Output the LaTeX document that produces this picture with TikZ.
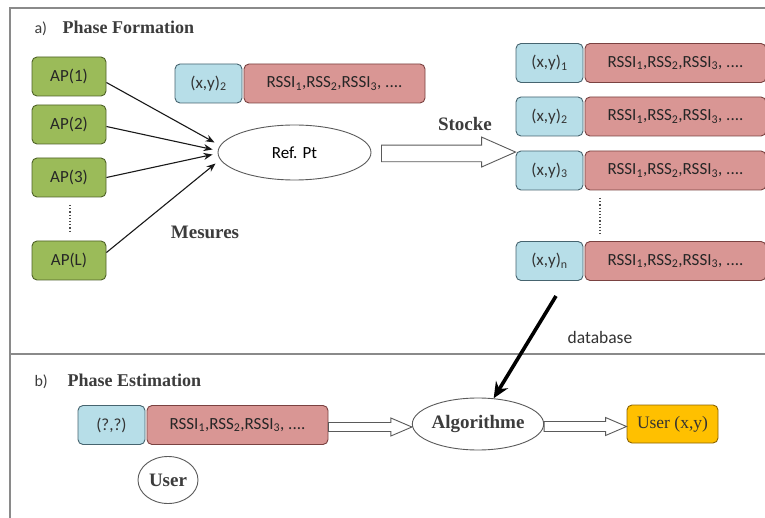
\documentclass[tikz,border=0pt]{standalone}
\usepackage{fontspec}
\setmainfont{Liberation Serif}
\newfontfamily\boxfont{Carlito}
\usetikzlibrary{calc,arrows.meta,shapes.geometric}

\definecolor{apgreen}{HTML}{9BBB59}
\definecolor{apline}{HTML}{4F6228}
\definecolor{posblue}{HTML}{B7DEE8}
\definecolor{posline}{HTML}{46646F}
\definecolor{rssred}{HTML}{D99694}
\definecolor{rssline}{HTML}{7A4241}
\definecolor{resgold}{HTML}{FFC000}
\definecolor{resline}{HTML}{8C6400}
\definecolor{titlegray}{HTML}{3C3C3C}
\definecolor{framegray}{HTML}{8A8A8A}
\definecolor{ovalline}{HTML}{5A5A5A}

\tikzset{
  boxtext/.style={font=\boxfont\fontsize{17}{19}\selectfont},
  apbox/.style={boxtext, draw=apline, fill=apgreen, rounded corners=5pt,
    line width=0.9pt, minimum width=74pt, minimum height=39pt, inner sep=0pt,
    text=black!85},
  posbox/.style={boxtext, draw=posline, fill=posblue, rounded corners=5pt,
    line width=0.9pt, minimum width=67pt, minimum height=39pt, inner sep=0pt,
    text=black!80},
  rssbox/.style={boxtext, draw=rssline, fill=rssred, rounded corners=5pt,
    line width=0.9pt, minimum width=181pt, minimum height=39pt, inner sep=0pt,
    text=black!85},
  oval/.style={ellipse, draw=ovalline, fill=white, line width=0.9pt, inner sep=0pt},
  heading/.style={anchor=base west, text=titlegray,
    font=\fontsize{18}{20}\selectfont\bfseries},
  tag/.style={anchor=base west, text=titlegray, font=\boxfont\fontsize{16}{18}\selectfont},
  caption/.style={text=titlegray, font=\fontsize{19}{21}\selectfont\bfseries},
  measure/.style={-{Stealth[length=9pt,width=7pt]}, line width=1.1pt, black!90},
  hollow/.style={draw=ovalline, fill=white, line width=0.9pt, line join=miter},
  frameline/.style={draw=framegray, line width=1.4pt},
}

\newcommand{\rssitext}{RSSI\textsubscript{1},RSS\textsubscript{2},RSSI\textsubscript{3}, ....}

\begin{document}
\begin{tikzpicture}[x=1pt,y=-1pt]
  \useasboundingbox (0,0) rectangle (765,518);
  \fill[white] (0,0) rectangle (765,518);

  % frame of the two panels
  \draw[frameline] (765,8) -- (10,8) -- (10,518);
  \draw[frameline] (10,354) -- (765,354);

  % ---------- a) Phase Formation ----------
  \node[tag] (tagA) at (31,34) {a)};
  \node[heading] (headA) at (59,34) {Phase Formation};

  % access points
  \node[apbox] (ap1) at (69,76.5)  {AP(1)};
  \node[apbox] (ap2) at (69,124.5) {AP(2)};
  \node[apbox] (ap3) at (69,177.5) {AP(3)};
  \node[apbox] (apL) at (69,260.5) {AP(L)};
  \draw[dotted, line width=1.2pt, black!70] (70,205) -- (70,231);

  % reference point
  \node[oval, boxtext, minimum width=153pt, minimum height=55pt] (ref) at (294.5,152.5) {Ref. Pt};

  % one measured fingerprint
  \node[posbox] (p0) at (208.5,83.5) {(x,y)\textsubscript{2}};
  \node[rssbox] (r0) at (334.5,83.5) {\rssitext};

  % measurements from the access points
  \draw[measure] ($(ap1.east)+(0,6)$) -- ($(ref.west)+(-3,-10)$);
  \draw[measure] ($(ap2.east)+(0,2)$) -- ($(ref.west)+(-5,-3)$);
  \draw[measure] (ap3.east) -- ($(ref.west)+(-5,2)$);
  \draw[measure] ($(apL.east)+(0,-8)$) -- ($(ref.west)+(-2,11)$);

  \node[caption] (mes) at (205,232) {Mesures};

  % fingerprint database
  \node[posbox] (c1) at (549.5,63)  {(x,y)\textsubscript{1}};
  \node[rssbox] (d1) at (675.5,63)  {\rssitext};
  \node[posbox] (c2) at (549.5,116.5) {(x,y)\textsubscript{2}};
  \node[rssbox] (d2) at (675.5,116.5) {\rssitext};
  \node[posbox] (c3) at (549.5,170.5) {(x,y)\textsubscript{3}};
  \node[rssbox] (d3) at (675.5,170.5) {\rssitext};
  \node[posbox] (cn) at (549.5,261) {(x,y)\textsubscript{n}};
  \node[rssbox] (dn) at (675.5,261) {\rssitext};
  \draw[dotted, line width=1.2pt, black!70] (600,198) -- (600,235);

  % storing arrow
  \coordinate (stockS) at ($(ref.east)+(10,1)$);
  \coordinate (stockT) at ($(c3.north west)+(0,1.5)$);
  \draw[hollow] let \p1=(stockS), \p2=(stockT) in
    (\x1,\y1+8.3pt) -- (\x2-34pt,\y1+8.3pt) -- (\x2-34pt,\y2+15pt) -- (\x2,\y2)
    -- (\x2-34pt,\y2-15pt) -- (\x2-34pt,\y1-8.3pt) -- (\x1,\y1-8.3pt) -- cycle;
  \node[caption] (stocke) at (465,124) {Stocke};

  % ---------- b) Phase Estimation ----------
  \node[tag] (tagB) at (31,386) {b)};
  \node[heading] (headB) at (64,386) {Phase Estimation};

  \node[posbox] (q0) at (111.5,425) {(?,?)};
  \node[rssbox] (s0) at (237.5,425) {\rssitext};
  \node[oval, caption, minimum width=60pt, minimum height=47pt] (user) at (168,480) {User};

  \node[oval, caption, minimum width=130pt, minimum height=52pt] (algo) at (478,424) {Algorithme};

  \node[draw=resline, fill=resgold, rounded corners=5pt, line width=0.9pt,
        minimum width=91pt, minimum height=38pt, inner sep=0pt,
        font=\fontsize{17.5}{19}\selectfont, text=black!80] (out) at (672.5,424) {User (x,y)};

  % estimation flow
  \draw[hollow] let \p1=($(s0.east)+(0,2)$), \p2=($(algo.west)+(0,2.5)$) in
    (\x1,\y1+4.5pt) -- (\x2-21pt,\y1+4.5pt) -- (\x2-21pt,\y1+9pt) -- (\x2,\y1)
    -- (\x2-21pt,\y1-9pt) -- (\x2-21pt,\y1-4.5pt) -- (\x1,\y1-4.5pt) -- cycle;
  \draw[hollow] let \p1=($(algo.east)+(0,2.5)$), \p2=($(out.west)+(0,2.5)$) in
    (\x1,\y1+5pt) -- (\x2-21pt,\y1+5pt) -- (\x2-21pt,\y1+9pt) -- (\x2,\y1)
    -- (\x2-21pt,\y1-9pt) -- (\x2-21pt,\y1-5pt) -- (\x1,\y1-5pt) -- cycle;

  % database lookup
  \coordinate (dbS) at (556,296);
  \draw[line width=3.6pt, -{Stealth[length=16pt,width=14pt]}] (dbS) -- (algo);
  \node[boxtext, text=black!80, font=\boxfont\fontsize{17.5}{19}\selectfont] (dblab) at (600,337) {database};
\end{tikzpicture}
\end{document}
